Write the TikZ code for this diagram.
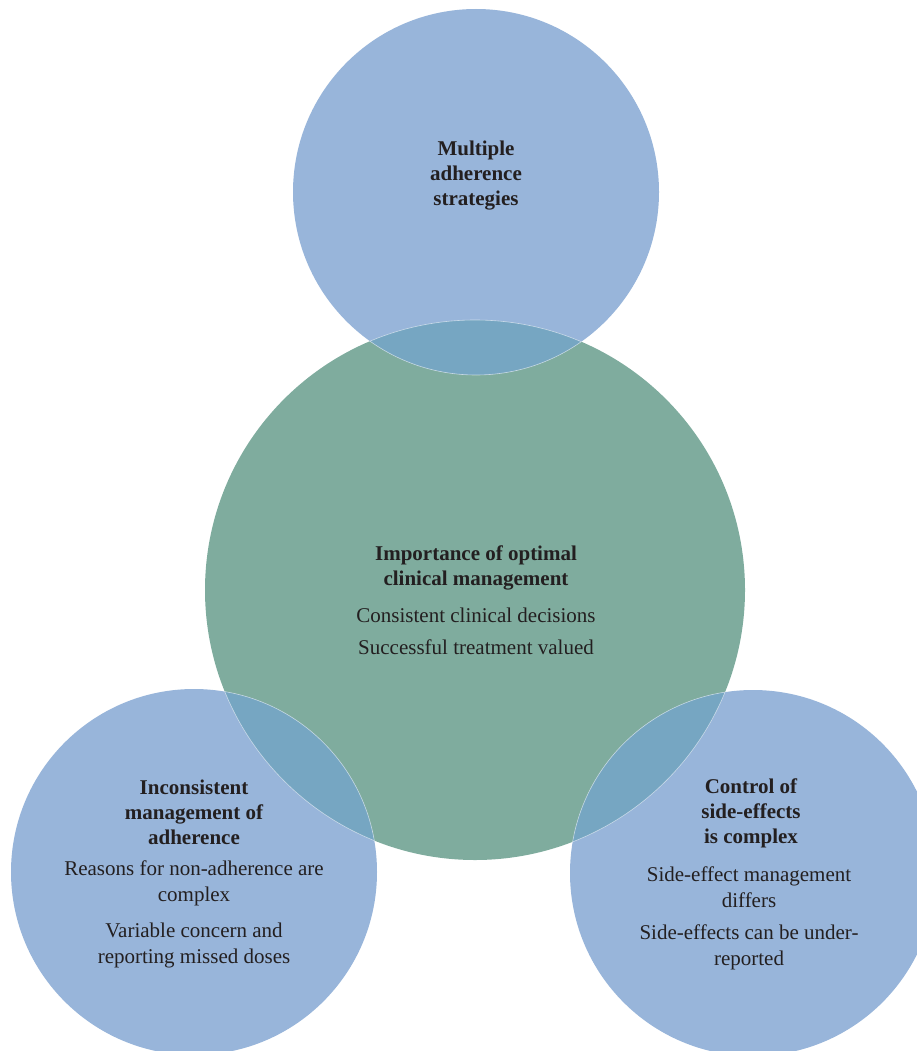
\documentclass[tikz,border=0pt]{standalone}
\usepackage{fontspec}
\setmainfont{Liberation Serif}
\definecolor{cblue}{HTML}{98B5DA}
\definecolor{cgreen}{HTML}{7FAC9E}
\definecolor{clens}{HTML}{76A6C2}
\definecolor{ctext}{HTML}{231F20}
\tikzset{
  blueball/.style={fill=cblue},
  greenball/.style={fill=cgreen},
  head/.style={align=center, text=ctext, inner sep=0pt, font=\fontsize{21}{25}\selectfont\bfseries},
  body/.style={align=center, text=ctext, inner sep=0pt, font=\fontsize{21}{26}\selectfont},
}
\begin{document}
\begin{tikzpicture}[x=1pt,y=-1pt]
\path[use as bounding box] (0,0) rectangle (917,1051);
\clip (0,0) rectangle (917,1051);
\coordinate (ct) at (476,192);
\coordinate (cm) at (475,590);
\coordinate (cl) at (194,872);
\coordinate (cr) at (753,873);
% circles
\fill[greenball] (cm) circle (270pt);
\fill[blueball] (ct) circle (183pt);
\fill[blueball] (cl) circle (183pt);
\fill[blueball] (cr) circle (183pt);
% overlaps
\begin{scope}
  \clip (cm) circle (270pt);
  \fill[clens] (ct) circle (183pt);
  \fill[clens] (cl) circle (183pt);
  \fill[clens] (cr) circle (183pt);
\end{scope}
\begin{scope}
  \clip (cm) circle (270pt);
  \draw[white, opacity=0.55, line width=0.6pt] (ct) circle (183pt);
  \draw[white, opacity=0.55, line width=0.6pt] (cl) circle (183pt);
  \draw[white, opacity=0.55, line width=0.6pt] (cr) circle (183pt);
\end{scope}
\begin{scope}
  \clip (ct) circle (183pt) (cl) circle (183pt) (cr) circle (183pt);
  \draw[white, opacity=0.55, line width=0.6pt] (cm) circle (270pt);
\end{scope}
% texts
\node[head] (th) at (476,176) {Multiple\\adherence\\strategies};
\node[head] (mh) at (476,568) {Importance of optimal\\clinical management};
\node[body] (mb) at (476,631) {Consistent clinical decisions\\[6pt]Successful treatment valued};
\node[head] (lh) at (194,812) {Inconsistent\\management of\\adherence};
\node[body] (lb1) at (194,883) {Reasons for non-adherence are\\complex};
\node[body] (lb2) at (194,945) {Variable concern and\\reporting missed doses};
\node[head] (rh) at (751,813) {Control of\\side-effects\\is complex};
\node[body] (rb1) at (749,887) {Side-effect management\\differs};
\node[body] (rb2) at (749,947) {Side-effects can be under-\\reported};
\end{tikzpicture}
\end{document}
